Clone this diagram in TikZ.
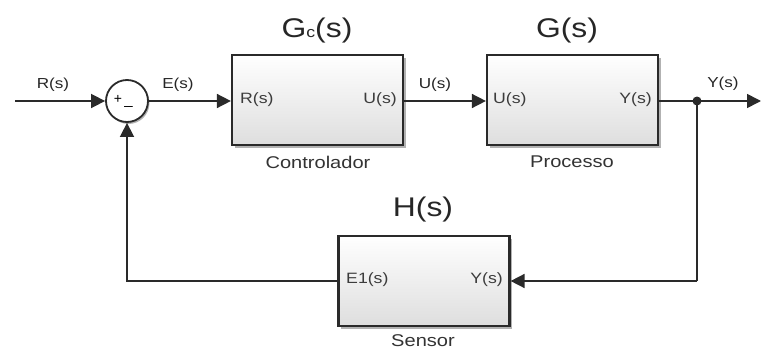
\documentclass[tikz,border=0pt]{standalone}
\usepackage{fontspec}
\setmainfont{Liberation Sans}
\usepackage{graphicx}
\usetikzlibrary{arrows.meta,shadows,calc}
\definecolor{ln}{HTML}{2A2A2A}
\definecolor{port}{HTML}{3C3C3C}
\newcommand{\sx}[1]{\scalebox{1.18}[1]{#1}}
\newcommand{\fsz}[1]{\fontsize{#1}{#1}\selectfont}
\tikzset{
  blk/.style={draw=ln, line width=2.2pt, minimum width=171pt, minimum height=90pt,
    top color=white, bottom color=black!13, inner sep=0pt,
    drop shadow={shadow xshift=2.5pt, shadow yshift=-3pt, opacity=0.3, fill=black}},
  sig/.style={line width=1.6pt, draw=ln, -{Triangle[length=14pt,width=14pt]}},
  wire/.style={line width=1.6pt, draw=ln},
  lbl/.style={font=\fsz{14.5}, text=black!85, inner sep=0pt},
  plbl/.style={font=\fsz{15}, text=port, inner sep=0pt},
  ttl/.style={font=\fsz{27}, text=black!85, inner sep=0pt},
  sub/.style={font=\fsz{17}, text=black!80, inner sep=0pt},
  sumc/.style={circle, draw=ln, line width=1.8pt, minimum size=42pt, fill=white, inner sep=0pt,
    drop shadow={shadow xshift=1.5pt, shadow yshift=-2pt, opacity=0.3, fill=black}}
}
\begin{document}
\begin{tikzpicture}[x=1pt,y=-1pt]
\useasboundingbox (0,0) rectangle (761,351);
% blocks
\node[blk] (gc) at (317.5,100) {};
\node[blk] (g) at (572.5,100) {};
\node[blk] (h) at (424,281) {};
\node[sumc] (sum) at (127,101) {};
\node[font=\fsz{14}, inner sep=0pt] (plus) at (118,99) {+};
\node[font=\fsz{15}, inner sep=0pt] (minus) at (128.5,106) {\_};
% titles
\node[ttl] (tgc) at (317,31) {\sx{G{\fsz{15}c}(s)}};
\node[ttl] (tg) at (567,31) {\sx{G(s)}};
\node[ttl] (th) at (423,210) {\sx{H(s)}};
\node[sub] (sgc) at (318,162) {\sx{Controlador}};
\node[sub] (sg) at (572,162) {\sx{Processo}};
\node[sub] (sh) at (423,341) {\sx{Sensor}};
% ports
\node[plbl, anchor=west] (p1) at (240,100) {\sx{R(s)}};
\node[plbl, anchor=east] (p2) at (397,100) {\sx{U(s)}};
\node[plbl, anchor=west] (p3) at (493,100) {\sx{U(s)}};
\node[plbl, anchor=east] (p4) at (652,100) {\sx{Y(s)}};
\node[plbl, anchor=west] (p5) at (346,280) {\sx{E1(s)}};
\node[plbl, anchor=east] (p6) at (503,280) {\sx{Y(s)}};
% signal labels
\node[lbl] (lr) at (53,85) {\sx{R(s)}};
\node[lbl] (le) at (178,85) {\sx{E(s)}};
\node[lbl] (lu) at (435,85) {\sx{U(s)}};
\node[lbl] (ly) at (723,84) {\sx{Y(s)}};
% coordinates
\coordinate (in) at (15,101);
\coordinate (br) at (697,101);
\coordinate (out) at (761,101);
\coordinate (fb) at (697,281);
% connectors
\draw[sig] (in) -- (sum.west);
\draw[sig] (sum.east) -- (gc.west |- sum.east);
\draw[sig] (gc.east |- br) -- (g.west |- br);
\draw[sig] (g.east |- br) -- (out);
\draw[wire] (br) -- (fb);
\draw[sig] (fb) -- (h.east);
\draw[sig] (h.west) -| (sum.south);
\fill[ln] (br) circle (4.5pt);
\end{tikzpicture}
\end{document}
